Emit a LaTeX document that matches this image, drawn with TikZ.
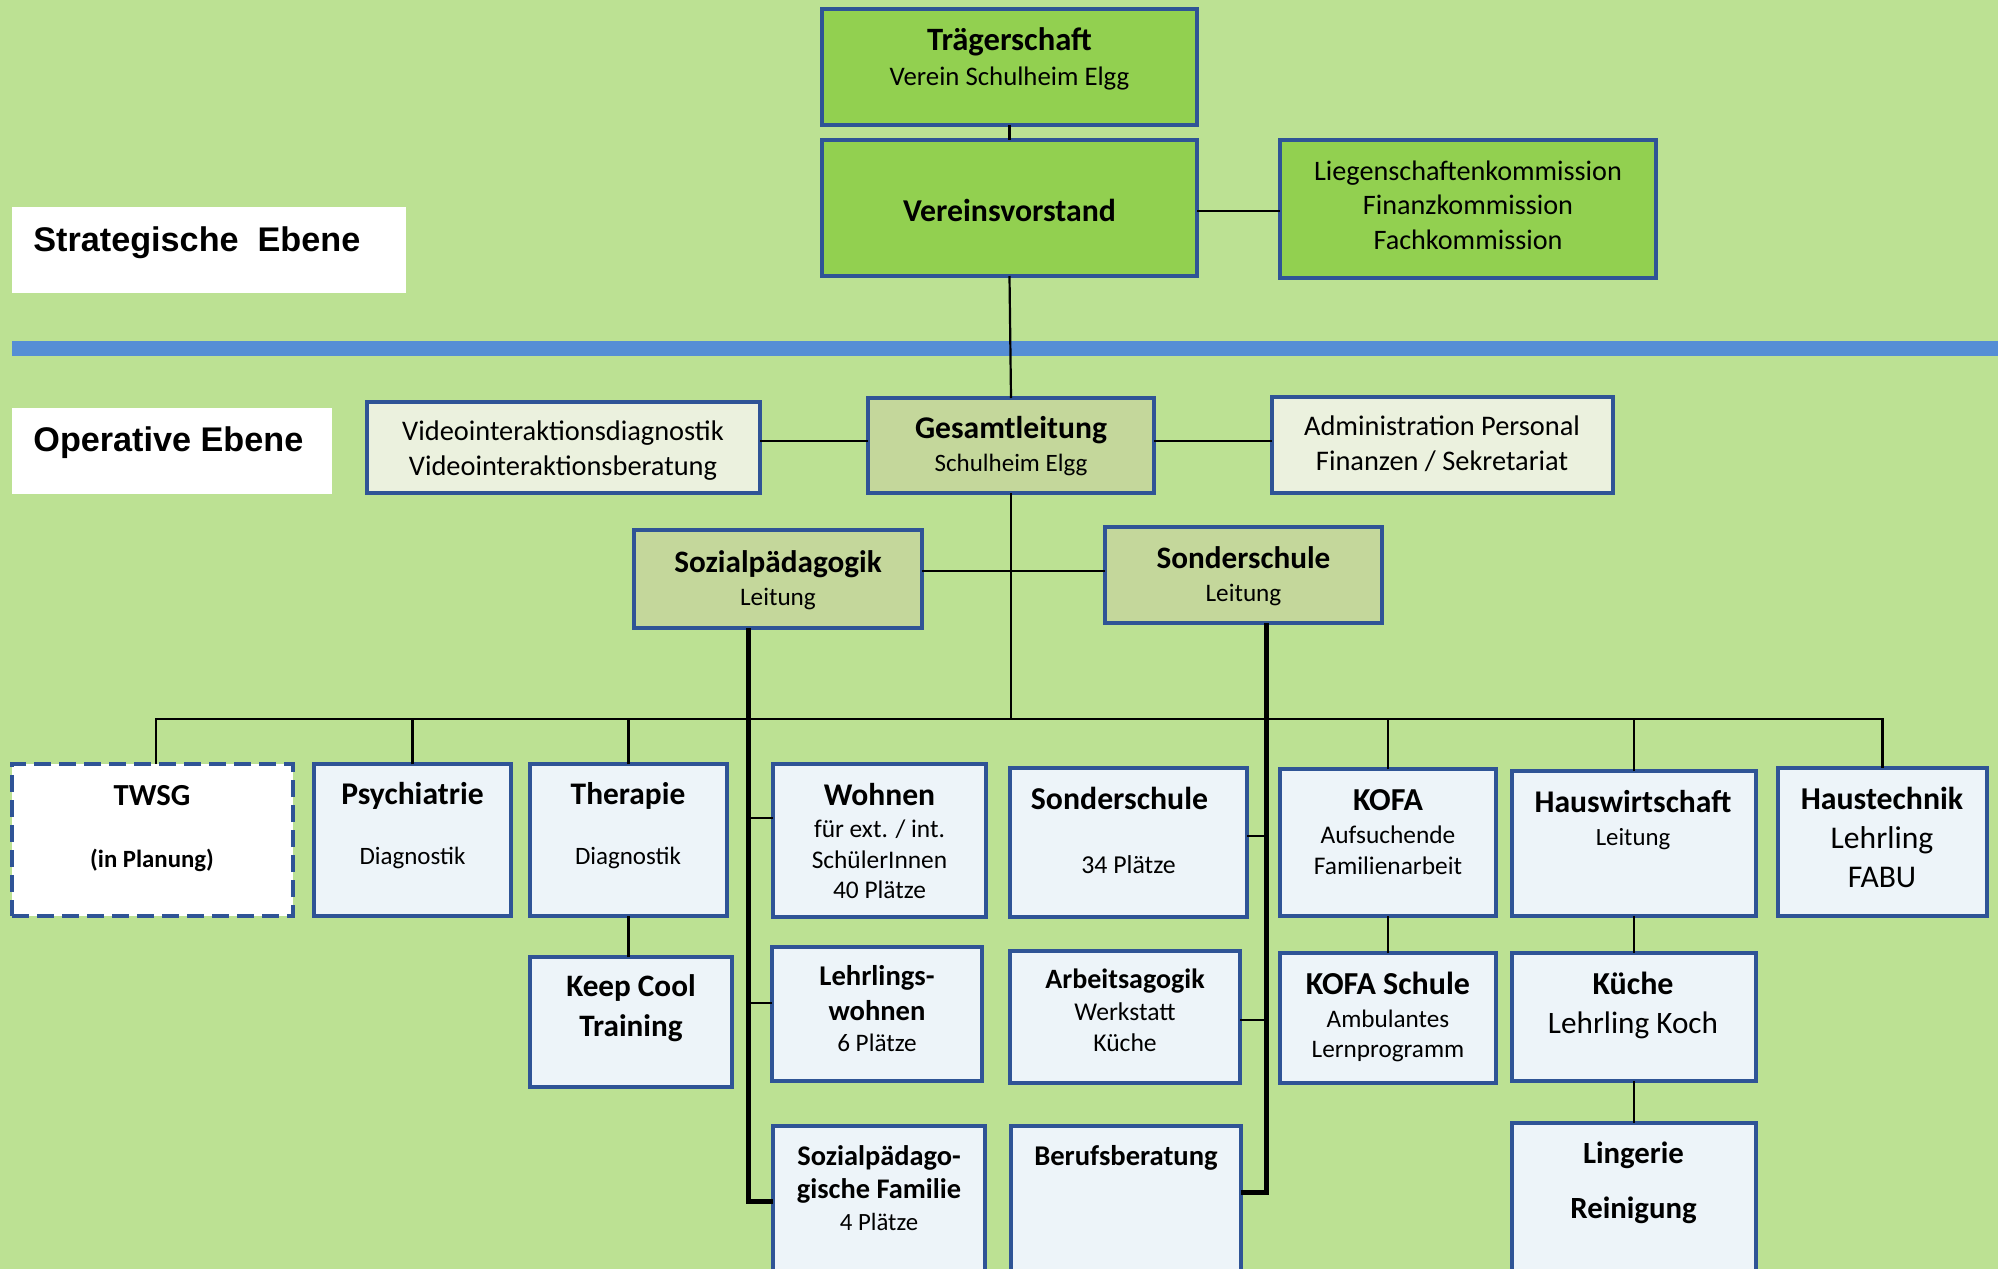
\documentclass[tikz,border=0pt]{standalone}
\usepackage{fontspec}
\setmainfont{Carlito}
\newfontfamily\arialfont{Liberation Sans}
\usetikzlibrary{calc}
\definecolor{bgc}{RGB}{188,225,147}
\definecolor{topg}{RGB}{146,208,80}
\definecolor{bordc}{RGB}{47,84,150}
\definecolor{midg}{RGB}{196,215,155}
\definecolor{sideg}{RGB}{235,241,222}
\definecolor{unitc}{RGB}{237,244,249}
\definecolor{bandc}{RGB}{85,142,213}
\newcommand\fsz[2]{\fontsize{#1}{#2}\selectfont}
\newcommand\mkbox[6]{\node[#6, minimum width={(#4-#2)*0.5pt}, minimum height={(#5-#3)*0.5pt}] (#1) at ({(#2+#4)/2},{(#3+#5)/2}) {};}
\tikzset{
 orgbox/.style={draw=bordc, line width=1.7pt, inner sep=0pt, outer sep=0pt, rectangle},
 topbox/.style={orgbox, fill=topg},
 midbox/.style={orgbox, fill=midg},
 sidebox/.style={orgbox, fill=sideg},
 unitbox/.style={orgbox, fill=unitc},
 planbox/.style={orgbox, fill=white, dash pattern=on 8.5pt off 4pt, line width=2pt},
 lvlbox/.style={rectangle, fill=white, inner sep=0pt, outer sep=0pt},
 txt/.style={anchor=base, align=center, inner sep=0pt, text=black},
 lvltxt/.style={anchor=base west, inner sep=0pt, text=black, font=\arialfont\bfseries},
 conn/.style={line width=1.1pt, black},
 thickconn/.style={line width=2.5pt, black, line join=miter},
}
\begin{document}
\begin{tikzpicture}[x=0.5pt, y=-0.5pt]
\clip (0,0) rectangle (1998,1269);
\fill[bgc] (0,0) rectangle (1998,1269);
\fill[bandc] (12,341) rectangle (1998,356);

% level labels
\mkbox{strat}{12}{207}{406}{293}{lvlbox}
\mkbox{oper}{12}{408}{332}{494}{lvlbox}
\node[lvltxt, font=\arialfont\bfseries\fsz{17.1}{20}] (t-strat) at (33,251) {Strategische\ \ Ebene};
\node[lvltxt, font=\arialfont\bfseries\fsz{17.1}{20}] (t-oper) at (33,451) {Operative Ebene};

% boxes
\mkbox{trag}{822}{9}{1197}{125}{topbox}
\mkbox{vv}{822}{140}{1197}{276}{topbox}
\mkbox{komm}{1280}{140}{1656}{278}{topbox}
\mkbox{video}{367}{402}{760}{493}{sidebox}
\mkbox{gl}{868}{398}{1154}{493}{midbox}
\mkbox{admin}{1272}{397}{1613}{493}{sidebox}
\mkbox{sozp}{634}{530}{922}{628}{midbox}
\mkbox{sons}{1105}{527}{1382}{623}{midbox}
\mkbox{twsg}{12}{764}{293}{916}{planbox}
\mkbox{psy}{314}{764}{511}{916}{unitbox}
\mkbox{ther}{530}{764}{727}{916}{unitbox}
\mkbox{keep}{530}{957}{732}{1087}{unitbox}
\mkbox{wohn}{773}{764}{986}{917}{unitbox}
\mkbox{lehr}{772}{947}{982}{1081}{unitbox}
\mkbox{spf}{773}{1126}{985}{1280}{unitbox}
\mkbox{sonder}{1010}{768}{1247}{917}{unitbox}
\mkbox{arb}{1010}{951}{1240}{1083}{unitbox}
\mkbox{beruf}{1011}{1126}{1241}{1280}{unitbox}
\mkbox{kofa}{1280}{769}{1496}{916}{unitbox}
\mkbox{kofas}{1280}{953}{1496}{1083}{unitbox}
\mkbox{hausw}{1512}{771}{1756}{916}{unitbox}
\mkbox{kuche}{1512}{953}{1756}{1081}{unitbox}
\mkbox{ling}{1512}{1123}{1756}{1280}{unitbox}
\mkbox{haust}{1778}{768}{1987}{916}{unitbox}

% connectors
\coordinate (hub) at (1011,719);
\coordinate (yk) at (0,211);
\coordinate (yv) at (0,441);
\coordinate (ys) at (0,571);
\coordinate (tw) at (156,719);
\draw[conn] (trag.south) -- (vv.north);
\draw[conn] (vv.east |- yk) -- (komm.west |- yk);
\draw[conn] (vv.south) -- (gl.north);
\draw[conn] (video.east |- yv) -- (gl.west |- yv);
\draw[conn] (gl.east |- yv) -- (admin.west |- yv);
\draw[conn] (sozp.east |- ys) -- (sons.west |- ys);
\draw[conn] (gl.south) -- (hub);
\draw[conn] (twsg.north -| tw) -- (tw) -- (hub);
\draw[conn] (hub) -| (haust.north);
\draw[conn] (psy.north) -- (psy.north |- hub);
\draw[conn] (ther.north) -- (ther.north |- hub);
\draw[conn] (kofa.north) -- (kofa.north |- hub);
\draw[conn] (hausw.north) -- (hausw.north |- hub);
\draw[conn] (ther.south) -- (ther.south |- keep.north);
\draw[conn] (kofa.south) -- (kofa.south |- kofas.north);
\draw[conn] (hausw.south) -- (hausw.south |- kuche.north);
\draw[conn] (kuche.south) -- (kuche.south |- ling.north);

\coordinate (sl) at (748,1201);
\coordinate (bw) at (748,818);
\coordinate (bl) at (748,1003);
\draw[thickconn] (sozp.south -| sl) -- (sl) -- (sl -| spf.west);
\draw[conn] (bw) -- (bw -| wohn.west);
\draw[conn] (bl) -- (bl -| lehr.west);
\coordinate (sr) at (1266,1192);
\coordinate (bs) at (1266,836);
\coordinate (ba) at (1266,1020);
\draw[thickconn] (sons.south -| sr) -- (sr) -- (sr -| beruf.east);
\draw[conn] (bs) -- (bs -| sonder.east);
\draw[conn] (ba) -- (ba -| arb.east);

% texts (anchored at the baseline of the last line)
\node[txt, font=\fsz{13.4}{15}] (t-trag) at (1009.5,85) {{\fsz{16.3}{15}\bfseries Trägerschaft}\\[2.5pt] Verein Schulheim Elgg};
\node[txt, font=\fsz{15.9}{15}\bfseries] (t-vv) at (1009.5,221) {Vereinsvorstand};
\node[txt, font=\fsz{14.1}{15}] (t-komm) at (1468,249) {Liegenschaftenkommission\\[2.25pt] Finanzkommission\\[2.25pt] Fachkommission};
\node[txt, font=\fsz{14.2}{15}] (t-video) at (563,475) {Videointeraktionsdiagnostik\\[2.2pt] Videointeraktionsberatung};
\node[txt, font=\fsz{12.5}{15}] (t-gl) at (1011,471) {{\fsz{15.8}{15}\bfseries Gesamtleitung}\\[1.3pt] Schulheim Elgg};
\node[txt, font=\fsz{14.2}{15}] (t-admin) at (1442,470) {Administration Personal\\[2.5pt] Finanzen / Sekretariat};
\node[txt, font=\fsz{12.6}{15}] (t-sozp) at (778,605) {{\fsz{15.6}{15}\bfseries Sozialpädagogik}\\[1.2pt] Leitung};
\node[txt, font=\fsz{12.6}{15}] (t-sons) at (1243.5,601) {{\fsz{15.6}{15}\bfseries Sonderschule}\\[1.5pt] Leitung};
\node[txt, font=\fsz{12.4}{15}\bfseries] (t-twsg) at (152,867) {{\fsz{15.3}{15}\bfseries TWSG}\\[15.8pt] (in Planung)};
\node[txt, font=\fsz{12.5}{15}] (t-psy) at (412.5,864) {{\fsz{15.8}{15}\bfseries Psychiatrie}\\[14.7pt] Diagnostik};
\node[txt, font=\fsz{12.5}{15}] (t-ther) at (628,864) {{\fsz{15.7}{15}\bfseries Therapie}\\[14.7pt] Diagnostik};
\node[txt, font=\fsz{15.6}{15}\bfseries] (t-keep) at (631,1036) {Keep Cool\\[4.7pt] Training};
\node[txt, font=\fsz{12.7}{15}] (t-wohn) at (879.5,898) {{\fsz{15.8}{15}\bfseries Wohnen}\\[1.3pt] für ext. / int.\\[0.2pt] SchülerInnen\\ 40 Plätze};
\node[txt, font=\fsz{12.9}{15}] (t-sonder) at (1128.5,873) {\hspace*{-9pt}{\fsz{15.9}{15}\bfseries Sonderschule}\\[16.7pt] 34 Plätze};
\node[txt, font=\fsz{12.6}{15}] (t-lehr) at (877,1051) {{\fsz{14.3}{15}\bfseries Lehrlings-}\\[2.5pt] {\fsz{14.3}{15}\bfseries wohnen}\\[0.5pt] 6 Plätze};
\node[txt, font=\fsz{12.8}{15}] (t-arb) at (1125,1051) {{\fsz{14}{15}\bfseries Arbeitsagogik}\\[1.2pt] Werkstatt\\[0.2pt] Küche};
\node[txt, font=\fsz{12.4}{15}] (t-spf) at (879,1230) {{\fsz{14.2}{15}\bfseries Sozialpädago-}\\[1.7pt] {\fsz{14.2}{15}\bfseries gische Familie}\\[0.8pt] 4 Plätze};
\node[txt, font=\fsz{14.3}{15}\bfseries] (t-beruf) at (1126,1165) {Berufsberatung};
\node[txt, font=\fsz{12.7}{15}] (t-kofa) at (1388,874) {{\fsz{16}{15}\bfseries KOFA}\\[1.3pt] Aufsuchende\\[0.3pt] Familienarbeit};
\node[txt, font=\fsz{12.4}{15}] (t-hausw) at (1633,845) {{\fsz{15.8}{15}\bfseries Hauswirtschaft}\\[1.2pt] Leitung};
\node[txt, font=\fsz{15.8}{15}] (t-haust) at (1882,887) {{\fsz{15.9}{15}\bfseries Haustechnik}\\[4.5pt] Lehrling\\[4.2pt] FABU};
\node[txt, font=\fsz{12.6}{15}] (t-kofas) at (1388,1057) {{\fsz{16}{15}\bfseries KOFA Schule}\\[1.3pt] Ambulantes\\ Lernprogramm};
\node[txt, font=\fsz{15.6}{15}] (t-kuche) at (1633,1033) {{\fsz{16}{15}\bfseries Küche}\\[4.3pt] Lehrling Koch};
\node[txt, font=\fsz{15.4}{15}\bfseries] (t-ling) at (1633.5,1218) {Lingerie\\[12.2pt] Reinigung};
\end{tikzpicture}
\end{document}
